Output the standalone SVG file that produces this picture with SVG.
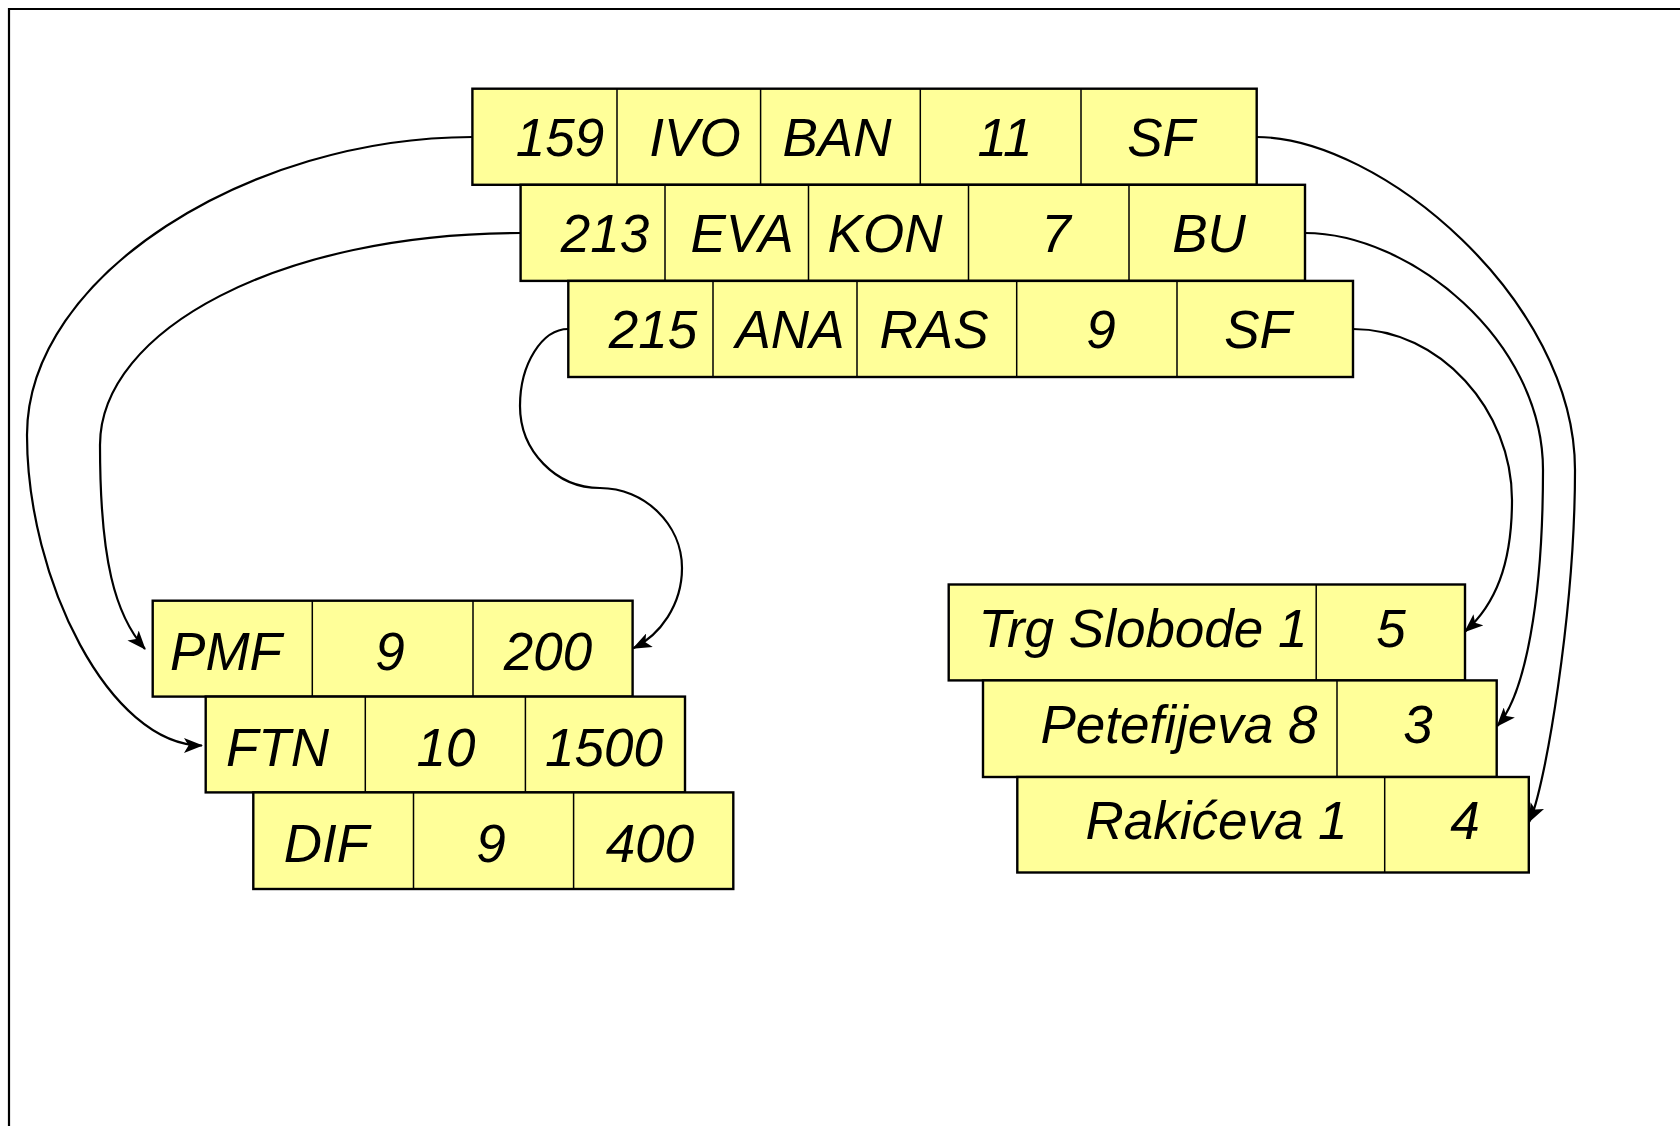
<svg xmlns="http://www.w3.org/2000/svg" width="1680" height="1126" viewBox="0 0 1680 1126">
<defs>
<style>
.cell{fill:#FFFF99;stroke:#000;stroke-width:2.4}
.div{stroke:#000;stroke-width:1.5}
.t{font-family:"Liberation Sans",Arial,sans-serif;font-style:italic;font-size:53px;fill:#000;text-anchor:middle}
.c{fill:none;stroke:#000;stroke-width:2.2;marker-end:url(#arr)}
</style>
<marker id="arr" markerUnits="userSpaceOnUse" markerWidth="19" markerHeight="15" viewBox="0 0 19 15" refX="18" refY="7.5" orient="auto">
<path d="M0,0 L19,7.5 L0,15 L4.5,7.5 Z" fill="#000"/>
</marker>
</defs>
<rect width="1680" height="1126" fill="#fff"/>
<path d="M9,1126 V9 H1680" fill="none" stroke="#000" stroke-width="2.2"/>

<g id="connectors">
<path class="c" d="M472.4,137 C250,137 27,275 27,435 C27,580 110,745.5 202,745.5"/>
<path class="c" d="M520.6,233 C280,233 100,330 100,445 C100,560 115,615 145,649"/>
<path class="c" d="M568.3,329 C542,329 520,364 520,406 C520,451 556,488 600,488 C644,488 682,524 682,568 C682,605 660,635 633.3,648.3"/>
<path class="c" d="M1256.7,137 C1380,137 1575,300 1575,470 C1575,610 1545,790 1529.3,821.7"/>
<path class="c" d="M1305,233 C1410,233 1543,340 1543,470 C1543,600 1525,695 1497.3,726"/>
<path class="c" d="M1353,329 C1440,329 1512,410 1512,500 C1512,565 1495,605 1465,631.7"/>
</g>

<g id="osoba-159">
<rect class="cell" x="472.4" y="88.7" width="784.3" height="96.1"/>
<path class="div" d="M617,88.7V184.8M760.6,88.7V184.8M920.3,88.7V184.8M1081,88.7V184.8"/>
<text class="t" x="560" y="156.2">159</text>
<text class="t" x="695" y="156.2">IVO</text>
<text class="t" x="837" y="156.2">BAN</text>
<text class="t" x="1005" y="156.2">11</text>
<text class="t" x="1161" y="156.2">SF</text>
</g>
<g id="osoba-213">
<rect class="cell" x="520.6" y="184.8" width="784.4" height="96.1"/>
<path class="div" d="M665,184.8V280.9M808.5,184.8V280.9M968.5,184.8V280.9M1129,184.8V280.9"/>
<text class="t" x="605" y="252.4">213</text>
<text class="t" x="742" y="252.4">EVA</text>
<text class="t" x="885" y="252.4">KON</text>
<text class="t" x="1056" y="252.4">7</text>
<text class="t" x="1209" y="252.4">BU</text>
</g>
<g id="osoba-215">
<rect class="cell" x="568.3" y="280.9" width="784.7" height="96.1"/>
<path class="div" d="M713,280.9V377M857,280.9V377M1016.7,280.9V377M1177,280.9V377"/>
<text class="t" x="653" y="347.6">215</text>
<text class="t" x="790" y="347.6">ANA</text>
<text class="t" x="934" y="347.6">RAS</text>
<text class="t" x="1101" y="347.6">9</text>
<text class="t" x="1258" y="347.6">SF</text>
</g>

<g id="fakultet-pmf">
<rect class="cell" x="152.7" y="600.7" width="479.9" height="95.9"/>
<path class="div" d="M312.3,600.7V696.6M473,600.7V696.6"/>
<text class="t" x="226" y="669.6">PMF</text>
<text class="t" x="390" y="669.6">9</text>
<text class="t" x="548" y="669.6">200</text>
</g>
<g id="fakultet-ftn">
<rect class="cell" x="205.7" y="696.6" width="479.3" height="95.8"/>
<path class="div" d="M365.3,696.6V792.4M525.4,696.6V792.4"/>
<text class="t" x="277.5" y="765.9">FTN</text>
<text class="t" x="446" y="765.9">10</text>
<text class="t" x="604" y="765.9">1500</text>
</g>
<g id="fakultet-dif">
<rect class="cell" x="253.3" y="792.4" width="480" height="96.6"/>
<path class="div" d="M413.5,792.4V889M573.6,792.4V889"/>
<text class="t" x="326.5" y="861.7">DIF</text>
<text class="t" x="491" y="861.7">9</text>
<text class="t" x="650" y="861.7">400</text>
</g>

<g id="adresa-sf">
<rect class="cell" x="948.7" y="584.5" width="516.3" height="95.9"/>
<path class="div" d="M1316.2,584.5V680.4"/>
<text class="t" x="1143" y="647.4">Trg Slobode 1</text>
<text class="t" x="1391" y="647.4">5</text>
</g>
<g id="adresa-bu">
<rect class="cell" x="983" y="680.4" width="513.7" height="96.6"/>
<path class="div" d="M1337,680.4V777"/>
<text class="t" x="1179" y="742.5">Petefijeva 8</text>
<text class="t" x="1418" y="742.5">3</text>
</g>
<g id="adresa-ks">
<rect class="cell" x="1017.3" y="777" width="511.5" height="95.5"/>
<path class="div" d="M1384.7,777V872.5"/>
<text class="t" x="1216.5" y="838.8">Rakićeva 1</text>
<text class="t" x="1465" y="838.8">4</text>
</g>
</svg>
